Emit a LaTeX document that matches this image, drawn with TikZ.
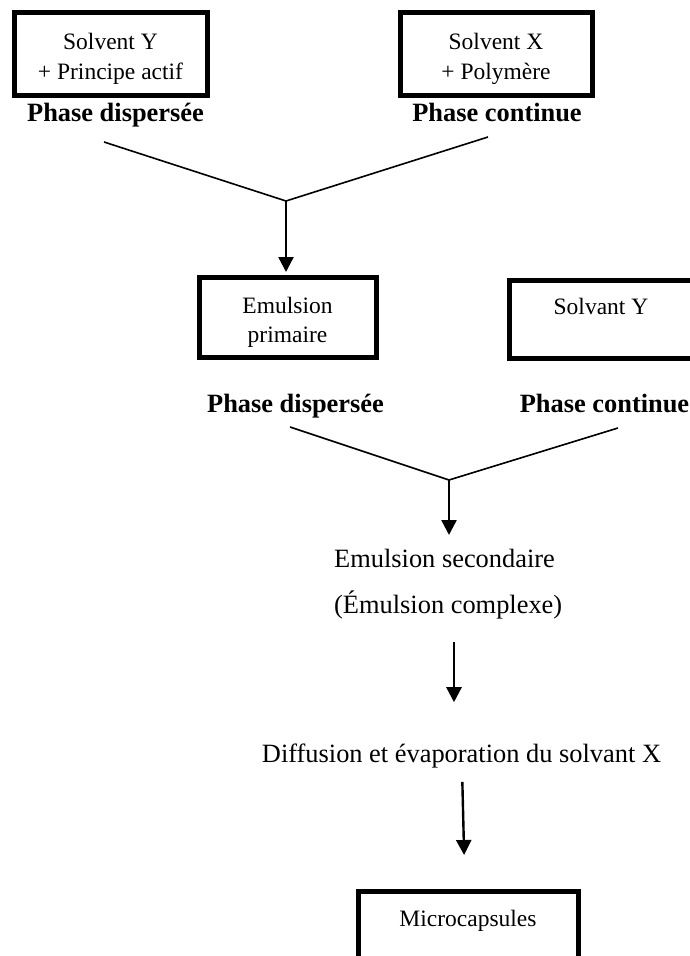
\documentclass[tikz,border=0pt]{standalone}
\usepackage{fontspec}
\setmainfont{Liberation Serif}
\usetikzlibrary{arrows.meta, positioning}

\newcommand{\haut}{\rule{0pt}{27pt}}

\begin{document}
\begin{tikzpicture}[x=1pt, y=-1pt,
  boite/.style={draw, line width=5pt, inner sep=0pt, outer sep=0pt, align=center,
    font=\fontsize{23.5}{29.5}\selectfont},
  boiteseule/.style={boite, text height=23pt, text depth=33pt},
  phase/.style={inner sep=0pt, anchor=base, font=\fontsize{26.4}{30}\selectfont\bfseries},
  texte/.style={inner sep=0pt, font=\fontsize{26.4}{46}\selectfont},
  trait/.style={line width=1.6pt},
  fleche/.style={line width=2.4pt, -{Triangle[width=15pt, length=15pt]}}]
  \useasboundingbox (0,0) rectangle (689,956);

  % double emulsion : deux phases, puis evaporation du solvant
  \node[boite, minimum width=193pt, minimum height=83pt] (sy) at (110.5,53.5) {\haut Solvent Y\\+ Principe actif};
  \node[boite, minimum width=192pt, minimum height=83pt] (sx) at (496,53.5) {\haut Solvent X\\+ Polymère};
  \node[phase] (pd1) at (115.5,121) {Phase dispersée};
  \node[phase] (pc1) at (497,121) {Phase continue};

  \coordinate (d1) at (104,142);
  \coordinate (c1) at (488,137);
  \coordinate (j1) at (286,201);
  \draw[trait] (d1) -- (j1) -- (c1);

  \node[boite, minimum width=177pt, minimum height=80pt] (ep) at (287.5,317) {\haut Emulsion\\primaire};
  \node[boiteseule, minimum width=184pt, minimum height=78pt] (sv) at (601,319) {Solvant Y};
  \draw[fleche, shorten >=5pt] (j1) -- (j1 |- ep.north);

  \node[phase] (pd2) at (295.5,412) {Phase dispersée};
  \node[phase] (pc2) at (604.5,412) {Phase continue};

  \coordinate (d2) at (290,427);
  \coordinate (c2) at (618,428);
  \coordinate (j2) at (449,480);
  \draw[trait] (d2) -- (j2) -- (c2);

  \node[texte, anchor=north west, align=left] (es) at (334,549) {Emulsion secondaire\\(Émulsion complexe)};
  \draw[fleche, shorten >=14pt] (j2) -- (j2 |- es.north);

  \node[texte, anchor=base] (df) at (461.5,762) {Diffusion et évaporation du solvant X};
  \draw[fleche, shorten <=23pt, shorten >=41pt] (es.south -| 454,0) -- (df.north -| 454,0);

  \node[boiteseule, anchor=north, minimum width=220pt, minimum height=80pt] (mc) at (468,891) {Microcapsules};
  \draw[fleche, shorten <=14pt, shorten >=36pt] (df.south -| 462,0) -- (mc.north -| 465,0);
\end{tikzpicture}
\end{document}
